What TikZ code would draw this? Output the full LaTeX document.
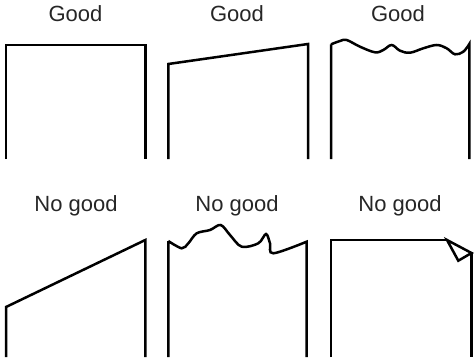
\documentclass[tikz,border=0pt]{standalone}
\usepackage{fontspec}
\setmainfont{Liberation Sans}
\begin{document}
\begin{tikzpicture}[x=1pt,y=-1pt,
  sheet/.style={line width=2.5pt, line join=miter},
  caption/.style={font=\fontsize{22}{26}\selectfont, anchor=base, inner sep=0pt, text=black!85}]
\useasboundingbox (0,0) rectangle (476,359);

\node[caption] (good1) at (75.5,21) {Good};
\node[caption] (good2) at (237,21) {Good};
\node[caption] (good3) at (398,21) {Good};
\node[caption] (bad1) at (76,211) {No good};
\node[caption] (bad2) at (237,211) {No good};
\node[caption] (bad3) at (400,211) {No good};

% top row
\draw[sheet] (6,159) -- (6,45) -- (145.3,45) -- (145.3,159);
\draw[sheet] (168.3,159) -- (168.3,64) -- (308,44) -- (308,159);
\draw[sheet] (331,159) -- (331,44.3)
  plot[smooth, tension=0.6] coordinates {(331,44.3) (340,41) (346.7,40) (360,46.7) (375,52.3)
    (383.3,50) (391.7,45) (400,50.7) (410,52.7) (423.3,48.3) (436.7,45) (446.7,48.3)
    (455,54.3) (463.3,51.7) (469.3,44)}
  -- (469.3,159);

% bottom row
\draw[sheet] (6,357) -- (6,307) -- (145.3,240) -- (145.3,357);
\draw[sheet] (168.3,357) -- (168.3,241)
  plot[smooth, tension=0.55] coordinates {(168.3,241) (181.7,248.3) (188.3,243.3) (196.7,233.3)
    (210,230) (220.7,225) (230,235) (241.7,246.7) (258.3,243.3) (266,234) (270,243.3)
    (273.3,253.3) (306.7,241.7)}
  -- (306.7,357);
\draw[sheet] (331,357) -- (331,240) -- (447,240);
\draw[sheet] (447,240) -- (471.5,253) -- (458.3,260.7) -- cycle;
\draw[sheet] (471.5,253) -- (471.5,357);
\end{tikzpicture}
\end{document}
